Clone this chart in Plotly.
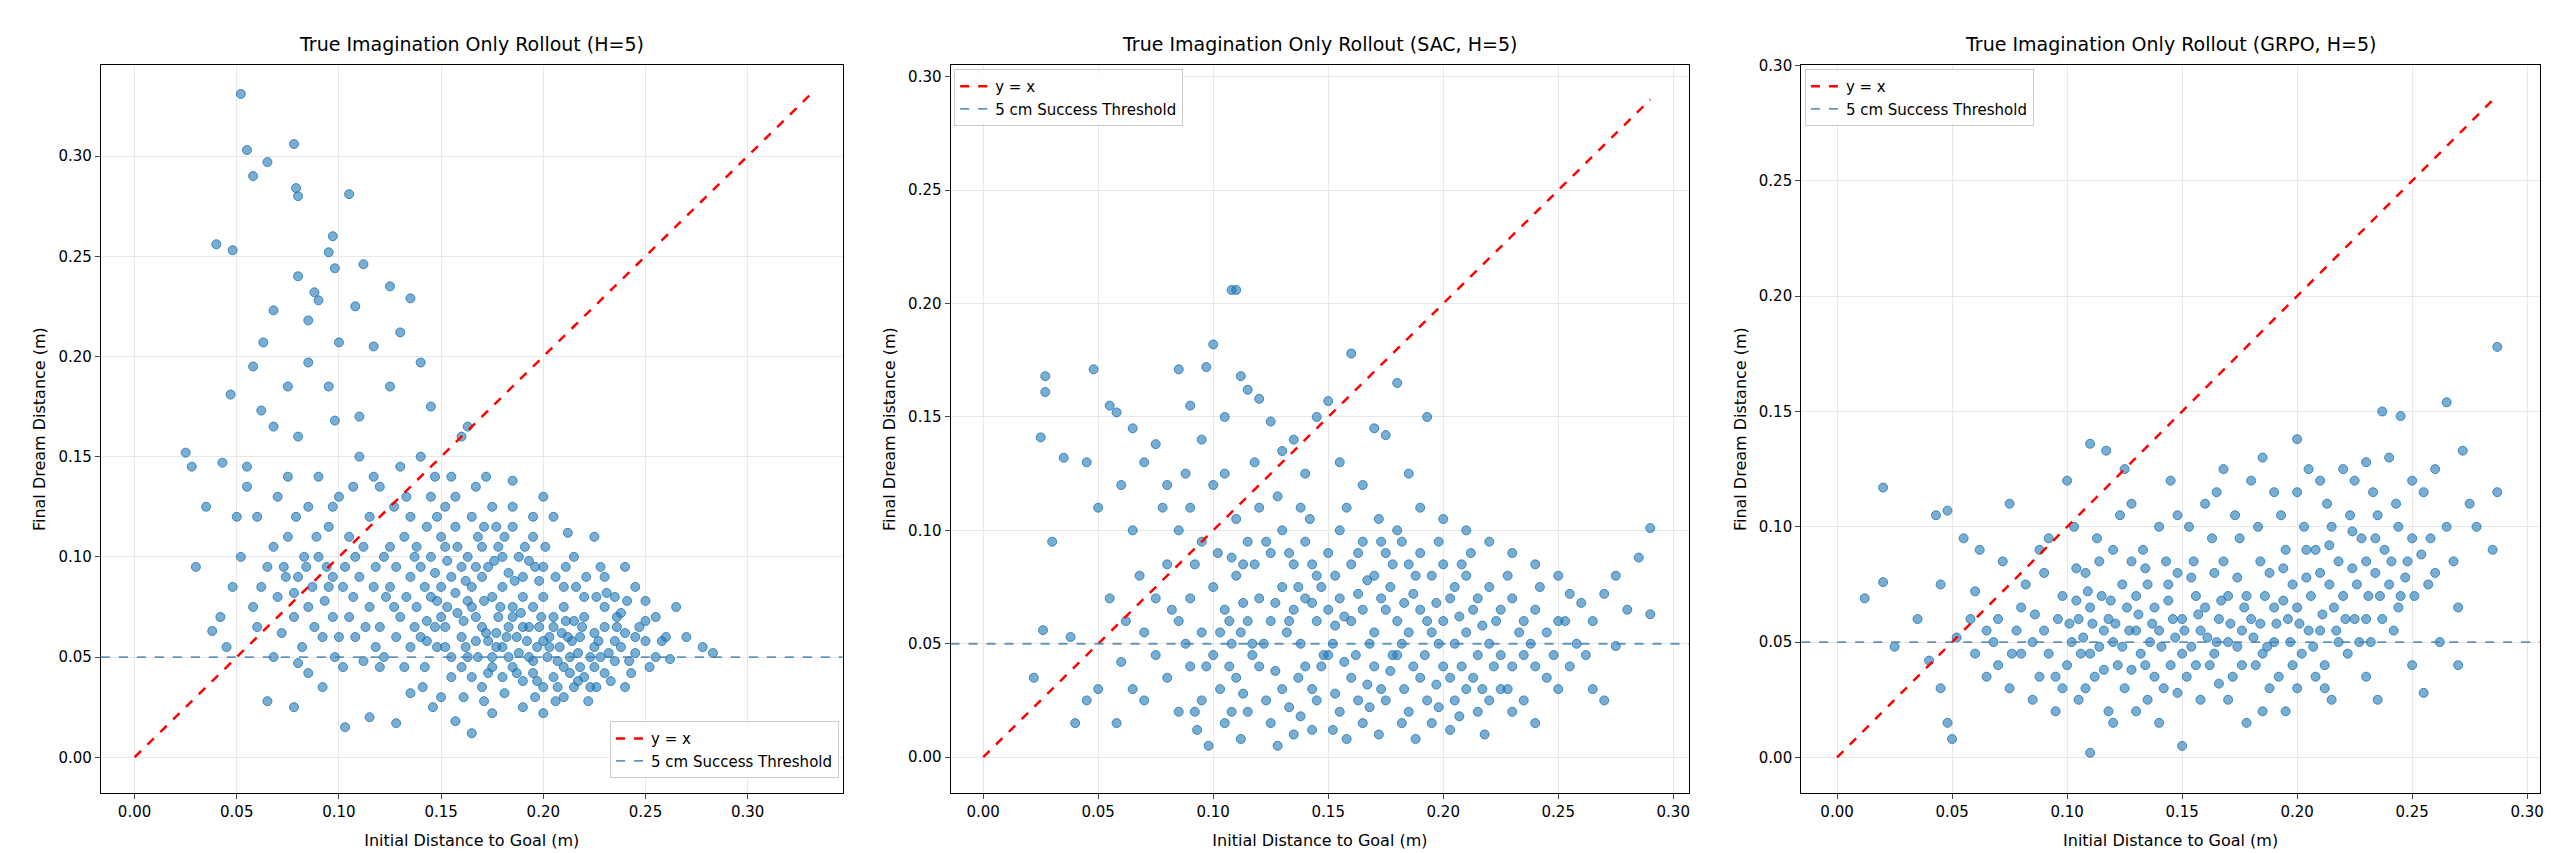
import plotly.graph_objects as go
from plotly.subplots import make_subplots

# Panel 1: True Imagination Only Rollout (H=5) -- (initial distance, final dream distance)
pts1 = [
(0.052,0.331),(0.055,0.303),(0.078,0.306),(0.065,0.297),(0.058,0.290),(0.079,0.284),(0.080,0.280),(0.105,0.281),
(0.097,0.260),(0.095,0.252),(0.040,0.256),(0.048,0.253),(0.112,0.246),(0.098,0.244),(0.080,0.240),(0.088,0.232),
(0.125,0.235),(0.135,0.229),(0.068,0.223),(0.090,0.228),(0.108,0.225),(0.085,0.218),(0.130,0.212),(0.063,0.207),
(0.100,0.207),(0.117,0.205),(0.140,0.197),(0.058,0.195),(0.085,0.197),(0.047,0.181),(0.075,0.185),(0.095,0.185),
(0.125,0.185),(0.062,0.173),(0.110,0.170),(0.145,0.175),(0.098,0.168),(0.068,0.165),(0.080,0.160),(0.025,0.152),
(0.043,0.147),(0.055,0.145),(0.028,0.145),(0.035,0.125),(0.050,0.120),(0.030,0.095),(0.038,0.063),(0.045,0.055),
(0.060,0.065),(0.065,0.028),(0.078,0.025),(0.080,0.047),(0.085,0.042),(0.092,0.035),(0.103,0.015),(0.115,0.020),
(0.120,0.045),(0.128,0.017),(0.135,0.032),(0.150,0.030),(0.157,0.018),(0.165,0.012),(0.175,0.022),(0.190,0.025),
(0.200,0.022),(0.210,0.030),(0.222,0.028),(0.240,0.035),(0.255,0.050),(0.262,0.049),(0.270,0.060),(0.278,0.055),
(0.283,0.052),(0.265,0.075),(0.250,0.068),(0.245,0.060),(0.238,0.072),(0.230,0.065),(0.225,0.055),(0.218,0.045),
(0.212,0.060),(0.205,0.070),(0.200,0.058),(0.195,0.048),(0.190,0.065),(0.185,0.075),(0.180,0.055),(0.175,0.045),
(0.170,0.065),(0.165,0.075),(0.160,0.060),(0.155,0.050),(0.150,0.070),(0.145,0.080),(0.140,0.060),(0.135,0.055),
(0.130,0.070),(0.125,0.085),(0.120,0.065),(0.115,0.075),(0.110,0.090),(0.105,0.070),(0.100,0.060),(0.095,0.085),
(0.090,0.100),(0.085,0.075),(0.080,0.090),(0.075,0.110),(0.070,0.080),(0.065,0.095),(0.060,0.120),(0.055,0.135),
(0.070,0.130),(0.075,0.140),(0.085,0.125),(0.090,0.140),(0.095,0.115),(0.100,0.130),(0.105,0.110),(0.110,0.150),
(0.115,0.120),(0.120,0.135),(0.125,0.105),(0.130,0.145),(0.135,0.120),(0.140,0.150),(0.145,0.130),(0.150,0.110),
(0.155,0.140),(0.160,0.160),(0.163,0.165),(0.165,0.120),(0.170,0.105),(0.175,0.125),(0.180,0.100),(0.185,0.115),
(0.190,0.090),(0.195,0.110),(0.200,0.095),(0.205,0.120),(0.210,0.085),(0.215,0.100),(0.220,0.080),(0.225,0.110),
(0.230,0.090),(0.235,0.080),(0.240,0.095),(0.245,0.085),(0.250,0.078),(0.255,0.070),(0.172,0.140),(0.185,0.138),
(0.200,0.130),(0.212,0.112),(0.135,0.090),(0.140,0.095),(0.145,0.100),(0.150,0.085),(0.155,0.090),(0.160,0.095),
(0.165,0.085),(0.170,0.090),(0.175,0.080),(0.180,0.085),(0.185,0.070),(0.190,0.080),(0.195,0.075),(0.200,0.080),
(0.205,0.065),(0.210,0.075),(0.215,0.068),(0.220,0.070),(0.225,0.062),(0.230,0.075),(0.235,0.058),(0.240,0.062),
(0.245,0.052),(0.250,0.058),(0.152,0.065),(0.158,0.072),(0.162,0.055),(0.168,0.050),(0.172,0.062),(0.178,0.070),
(0.182,0.060),(0.188,0.052),(0.192,0.058),(0.198,0.065),(0.202,0.050),(0.208,0.055),(0.213,0.050),(0.218,0.060),
(0.142,0.045),(0.148,0.055),(0.155,0.040),(0.160,0.045),(0.165,0.040),(0.170,0.035),(0.175,0.050),(0.180,0.040),
(0.185,0.045),(0.190,0.038),(0.195,0.042),(0.200,0.035),(0.205,0.040),(0.210,0.045),(0.215,0.035),(0.220,0.040),
(0.225,0.045),(0.230,0.042),(0.235,0.048),(0.118,0.055),(0.122,0.050),(0.128,0.060),(0.132,0.045),(0.108,0.060),
(0.112,0.048),(0.098,0.050),(0.102,0.045),(0.092,0.060),(0.088,0.065),(0.082,0.055),(0.078,0.070),(0.072,0.062),
(0.068,0.050),(0.138,0.075),(0.143,0.068),(0.148,0.078),(0.153,0.098),(0.158,0.105),(0.163,0.100),(0.168,0.110),
(0.173,0.095),(0.178,0.105),(0.183,0.092),(0.188,0.100),(0.193,0.098),(0.198,0.088),(0.118,0.095),(0.122,0.100),
(0.128,0.095),(0.132,0.110),(0.138,0.105),(0.143,0.115),(0.148,0.120),(0.103,0.095),(0.108,0.100),(0.112,0.105),
(0.093,0.078),(0.097,0.090),(0.087,0.085),(0.083,0.100),(0.078,0.082),(0.073,0.095),(0.068,0.105),(0.062,0.085),
(0.058,0.075),(0.052,0.100),(0.048,0.085),(0.042,0.070),(0.185,0.125),(0.195,0.120),(0.228,0.095),(0.260,0.060),
(0.153,0.075),(0.157,0.082),(0.161,0.068),(0.163,0.078),(0.167,0.070),(0.171,0.078),(0.173,0.058),(0.177,0.062),
(0.179,0.075),(0.183,0.065),(0.187,0.060),(0.189,0.072),(0.193,0.065),(0.197,0.055),(0.199,0.070),(0.203,0.060),
(0.207,0.048),(0.209,0.062),(0.211,0.068),(0.214,0.058),(0.217,0.052),(0.219,0.065),(0.223,0.050),(0.227,0.058),
(0.232,0.052),(0.236,0.065),(0.242,0.048),(0.247,0.065),(0.252,0.045),(0.258,0.058),(0.163,0.050),(0.167,0.058),
(0.173,0.042),(0.177,0.055),(0.183,0.050),(0.187,0.042),(0.193,0.050),(0.197,0.038),(0.203,0.055),(0.207,0.035),
(0.213,0.042),(0.217,0.038),(0.223,0.035),(0.228,0.050),(0.233,0.038),(0.238,0.055),(0.243,0.042),(0.152,0.055),
(0.147,0.065),(0.143,0.058),(0.137,0.065),(0.133,0.080),(0.127,0.075),(0.123,0.080),(0.117,0.085),(0.113,0.065),
(0.107,0.080),(0.102,0.085),(0.097,0.070),(0.094,0.095),(0.089,0.110),(0.084,0.095),(0.079,0.120),(0.074,0.090),
(0.137,0.100),(0.142,0.085),(0.147,0.092),(0.152,0.105),(0.157,0.115),(0.162,0.088),(0.167,0.095),(0.171,0.115),
(0.176,0.098),(0.181,0.110),(0.186,0.088),(0.191,0.105),(0.196,0.095),(0.201,0.105),(0.206,0.090),(0.211,0.095),
(0.216,0.085),(0.221,0.090),(0.226,0.080),(0.231,0.082),(0.236,0.070),(0.241,0.078),(0.127,0.125),(0.133,0.130),
(0.117,0.140),(0.107,0.135),(0.097,0.125),(0.147,0.140),(0.152,0.125),(0.157,0.130),(0.167,0.135),(0.177,0.115),
(0.141,0.035),(0.146,0.025),(0.161,0.030),(0.171,0.028),(0.181,0.032),(0.196,0.030),(0.206,0.028),(0.226,0.035),
]

# Panel 2: SAC
pts2 = [
(0.108,0.206),(0.110,0.206),(0.027,0.168),(0.027,0.161),(0.048,0.171),(0.025,0.141),(0.035,0.132),(0.030,0.095),
(0.026,0.056),(0.022,0.035),(0.038,0.053),(0.100,0.182),(0.097,0.172),(0.085,0.171),(0.112,0.168),(0.160,0.178),
(0.180,0.165),(0.193,0.150),(0.170,0.145),(0.175,0.142),(0.290,0.101),(0.285,0.088),(0.280,0.065),(0.275,0.049),
(0.290,0.063),(0.055,0.155),(0.058,0.152),(0.065,0.145),(0.070,0.130),(0.075,0.138),(0.080,0.120),(0.090,0.155),
(0.095,0.140),(0.105,0.150),(0.115,0.162),(0.120,0.158),(0.125,0.148),(0.130,0.135),(0.135,0.140),(0.140,0.125),
(0.145,0.150),(0.150,0.157),(0.155,0.130),(0.165,0.120),(0.185,0.125),(0.190,0.110),(0.200,0.105),(0.210,0.100),
(0.220,0.095),(0.230,0.090),(0.240,0.085),(0.250,0.080),(0.255,0.072),(0.260,0.068),(0.265,0.060),(0.270,0.072),
(0.045,0.130),(0.050,0.110),(0.060,0.120),(0.065,0.100),(0.055,0.070),(0.060,0.042),(0.050,0.030),(0.045,0.025),
(0.040,0.015),(0.058,0.015),(0.065,0.030),(0.070,0.055),(0.075,0.070),(0.080,0.085),(0.085,0.100),(0.090,0.110),
(0.095,0.095),(0.100,0.120),(0.105,0.125),(0.110,0.105),(0.115,0.095),(0.120,0.110),(0.125,0.090),(0.130,0.100),
(0.135,0.085),(0.140,0.095),(0.145,0.080),(0.150,0.090),(0.155,0.100),(0.160,0.085),(0.165,0.095),(0.170,0.080),
(0.175,0.090),(0.180,0.100),(0.185,0.085),(0.190,0.090),(0.195,0.080),(0.200,0.085),(0.205,0.075),(0.210,0.080),
(0.215,0.070),(0.220,0.075),(0.225,0.065),(0.230,0.070),(0.235,0.060),(0.240,0.065),(0.245,0.055),(0.250,0.060),
(0.085,0.060),(0.090,0.070),(0.095,0.055),(0.100,0.075),(0.105,0.065),(0.110,0.080),(0.115,0.060),(0.120,0.070),
(0.125,0.060),(0.130,0.075),(0.135,0.065),(0.140,0.070),(0.145,0.060),(0.150,0.065),(0.155,0.070),(0.160,0.060),
(0.165,0.065),(0.170,0.055),(0.175,0.065),(0.180,0.060),(0.185,0.055),(0.190,0.065),(0.195,0.055),(0.200,0.060),
(0.205,0.050),(0.210,0.055),(0.215,0.045),(0.220,0.050),(0.225,0.045),(0.230,0.040),(0.235,0.045),(0.240,0.040),
(0.245,0.035),(0.250,0.030),(0.255,0.040),(0.265,0.030),(0.270,0.025),(0.080,0.035),(0.085,0.020),(0.090,0.040),
(0.095,0.025),(0.100,0.045),(0.105,0.015),(0.110,0.035),(0.115,0.020),(0.120,0.040),(0.125,0.015),(0.130,0.030),
(0.135,0.010),(0.140,0.040),(0.145,0.025),(0.150,0.045),(0.155,0.020),(0.160,0.035),(0.165,0.015),(0.170,0.040),
(0.175,0.025),(0.180,0.045),(0.185,0.020),(0.190,0.035),(0.195,0.015),(0.200,0.040),(0.205,0.025),(0.210,0.030),
(0.215,0.020),(0.220,0.025),(0.225,0.030),(0.230,0.020),(0.235,0.025),(0.240,0.015),(0.098,0.005),(0.112,0.008),
(0.128,0.005),(0.143,0.012),(0.158,0.008),(0.172,0.010),(0.188,0.008),(0.203,0.012),(0.218,0.010),(0.092,0.085),
(0.102,0.090),(0.118,0.085),(0.132,0.055),(0.138,0.050),(0.148,0.045),(0.152,0.050),(0.162,0.045),(0.168,0.050),
(0.178,0.045),(0.182,0.050),(0.192,0.045),(0.198,0.050),(0.208,0.040),(0.122,0.050),(0.108,0.050),(0.112,0.055),
(0.075,0.045),(0.070,0.025),(0.062,0.060),(0.068,0.080),(0.078,0.110),(0.088,0.125),(0.172,0.105),(0.182,0.095),
(0.158,0.110),(0.142,0.105),(0.128,0.115),(0.212,0.090),(0.228,0.080),(0.242,0.075),(0.258,0.050),(0.275,0.080),
(0.103,0.030),(0.107,0.040),(0.113,0.028),(0.117,0.045),(0.123,0.025),(0.127,0.038),(0.133,0.022),(0.137,0.035),
(0.143,0.030),(0.147,0.040),(0.153,0.028),(0.157,0.042),(0.163,0.025),(0.167,0.032),(0.173,0.030),(0.177,0.038),
(0.183,0.030),(0.187,0.040),(0.193,0.025),(0.197,0.032),(0.203,0.035),(0.207,0.018),(0.213,0.035),(0.217,0.030),
(0.103,0.055),(0.107,0.060),(0.113,0.068),(0.117,0.050),(0.127,0.068),(0.133,0.060),(0.137,0.075),(0.143,0.068),
(0.147,0.075),(0.153,0.058),(0.157,0.062),(0.163,0.072),(0.167,0.078),(0.173,0.070),(0.177,0.075),(0.183,0.068),
(0.187,0.072),(0.193,0.060),(0.197,0.068),(0.203,0.070),(0.207,0.062),(0.213,0.065),(0.217,0.058),(0.223,0.060),
(0.108,0.088),(0.113,0.085),(0.123,0.095),(0.133,0.090),(0.143,0.085),(0.153,0.080),(0.163,0.090),(0.173,0.095),
(0.178,0.085),(0.188,0.080),(0.198,0.095),(0.208,0.085),(0.097,0.040),(0.092,0.020),(0.088,0.050),(0.082,0.065),
(0.093,0.012),(0.108,0.020),(0.138,0.018),(0.152,0.012),(0.168,0.022),(0.182,0.015),(0.198,0.022),(0.228,0.030),
(0.238,0.050),(0.248,0.045),(0.253,0.060),(0.262,0.045),(0.233,0.055),(0.222,0.040),(0.118,0.130),(0.138,0.110),
]

# Panel 3: GRPO
pts3 = [
(0.287,0.178),(0.287,0.115),(0.265,0.154),(0.272,0.133),(0.237,0.150),(0.245,0.148),(0.012,0.069),(0.020,0.117),
(0.020,0.076),(0.048,0.107),(0.043,0.105),(0.045,0.075),(0.110,0.136),(0.117,0.133),(0.200,0.138),(0.025,0.048),
(0.035,0.060),(0.040,0.042),(0.045,0.030),(0.048,0.015),(0.050,0.008),(0.055,0.095),(0.060,0.072),(0.065,0.055),
(0.070,0.040),(0.075,0.110),(0.080,0.065),(0.085,0.050),(0.090,0.080),(0.095,0.035),(0.100,0.120),(0.105,0.060),
(0.110,0.045),(0.115,0.070),(0.120,0.090),(0.125,0.030),(0.130,0.055),(0.135,0.075),(0.140,0.100),(0.145,0.040),
(0.150,0.060),(0.155,0.085),(0.160,0.110),(0.165,0.050),(0.170,0.070),(0.175,0.095),(0.180,0.120),(0.185,0.045),
(0.190,0.065),(0.195,0.090),(0.200,0.115),(0.205,0.055),(0.210,0.080),(0.215,0.100),(0.220,0.125),(0.225,0.060),
(0.230,0.085),(0.235,0.105),(0.240,0.130),(0.245,0.070),(0.250,0.095),(0.255,0.115),(0.260,0.080),(0.265,0.100),
(0.270,0.065),(0.275,0.110),(0.250,0.040),(0.255,0.028),(0.230,0.035),(0.215,0.025),(0.200,0.030),(0.185,0.020),
(0.170,0.025),(0.150,0.005),(0.140,0.015),(0.130,0.020),(0.120,0.015),(0.110,0.002),(0.105,0.025),(0.095,0.020),
(0.085,0.025),(0.075,0.030),(0.065,0.035),(0.060,0.045),(0.070,0.060),(0.080,0.045),(0.090,0.055),(0.100,0.040),
(0.110,0.065),(0.120,0.050),(0.130,0.070),(0.140,0.055),(0.150,0.045),(0.160,0.065),(0.170,0.050),(0.180,0.060),
(0.190,0.050),(0.200,0.065),(0.210,0.055),(0.220,0.070),(0.230,0.060),(0.240,0.075),(0.098,0.070),(0.108,0.080),
(0.118,0.060),(0.128,0.085),(0.138,0.065),(0.148,0.080),(0.158,0.055),(0.168,0.085),(0.178,0.070),(0.188,0.080),
(0.198,0.075),(0.208,0.090),(0.218,0.085),(0.228,0.095),(0.238,0.090),(0.248,0.085),(0.258,0.095),(0.102,0.050),
(0.112,0.035),(0.122,0.040),(0.132,0.045),(0.142,0.030),(0.152,0.035),(0.162,0.040),(0.172,0.035),(0.182,0.040),
(0.192,0.035),(0.202,0.045),(0.212,0.040),(0.222,0.045),(0.232,0.050),(0.242,0.055),(0.088,0.035),(0.078,0.055),
(0.068,0.050),(0.058,0.060),(0.052,0.052),(0.092,0.095),(0.103,0.100),(0.113,0.095),(0.123,0.105),(0.133,0.090),
(0.143,0.085),(0.153,0.100),(0.163,0.095),(0.173,0.105),(0.183,0.100),(0.193,0.105),(0.203,0.100),(0.213,0.110),
(0.223,0.105),(0.233,0.115),(0.243,0.110),(0.125,0.125),(0.145,0.120),(0.165,0.115),(0.185,0.130),(0.205,0.125),
(0.225,0.120),(0.260,0.125),(0.268,0.085),(0.278,0.100),(0.285,0.090),(0.262,0.050),(0.270,0.040),(0.146,0.060),
(0.136,0.050),(0.126,0.065),(0.116,0.055),(0.106,0.045),(0.096,0.060),(0.156,0.070),(0.166,0.060),(0.176,0.055),
(0.186,0.070),(0.196,0.060),(0.206,0.070),(0.216,0.065),(0.226,0.075),(0.236,0.070),(0.118,0.020),(0.135,0.025),
(0.158,0.025),(0.178,0.015),(0.195,0.020),(0.212,0.030),(0.235,0.025),(0.082,0.075),(0.072,0.085),(0.062,0.090),
(0.088,0.090),(0.128,0.110),(0.148,0.105),(0.168,0.125),(0.190,0.115),(0.210,0.120),(0.230,0.128),(0.250,0.120),
(0.101,0.058),(0.104,0.068),(0.107,0.052),(0.111,0.058),(0.114,0.048),(0.119,0.068),(0.121,0.058),(0.124,0.048),
(0.127,0.055),(0.131,0.062),(0.134,0.040),(0.137,0.058),(0.141,0.048),(0.144,0.068),(0.147,0.052),(0.151,0.055),
(0.154,0.048),(0.157,0.062),(0.161,0.052),(0.164,0.045),(0.167,0.068),(0.171,0.058),(0.174,0.048),(0.177,0.065),
(0.181,0.052),(0.184,0.058),(0.187,0.048),(0.191,0.058),(0.194,0.068),(0.197,0.050),(0.201,0.058),(0.204,0.078),
(0.207,0.048),(0.211,0.062),(0.214,0.075),(0.217,0.055),(0.221,0.060),(0.224,0.082),(0.227,0.050),(0.231,0.070),
(0.234,0.080),(0.237,0.060),(0.241,0.085),(0.244,0.065),(0.247,0.078),(0.251,0.070),(0.254,0.088),(0.257,0.075),
(0.104,0.082),(0.109,0.072),(0.114,0.085),(0.124,0.075),(0.134,0.082),(0.144,0.075),(0.154,0.078),(0.164,0.080),
(0.174,0.078),(0.184,0.085),(0.194,0.082),(0.204,0.090),(0.214,0.092),(0.224,0.098),(0.234,0.095),(0.244,0.100),
(0.098,0.030),(0.108,0.030),(0.116,0.038),(0.128,0.038),(0.138,0.035),(0.148,0.028),(0.156,0.040),(0.166,0.032),
(0.176,0.040),(0.188,0.030),(0.198,0.040),(0.208,0.035),(0.218,0.050),(0.086,0.062),(0.076,0.045),(0.092,0.045),
]

panels = [
    ("True Imagination Only Rollout (H=5)", pts1, [-0.0165, 0.3465], [-0.0177, 0.3452]),
    ("True Imagination Only Rollout (SAC, H=5)", pts2, [-0.0142, 0.307], [-0.0157, 0.305]),
    ("True Imagination Only Rollout (GRPO, H=5)", pts3, [-0.0156, 0.3056], [-0.0153, 0.300]),
]
threshold = 0.05

W = 2560
doms = [(93/W, 836/W), (944/W, 1684/W), (1796/W, 2536/W)]
fig = make_subplots(rows=1, cols=3)
legend_pos = [dict(x=0.995, y=0.02, xanchor="right", yanchor="bottom"),
              dict(x=0.005, y=0.995, xanchor="left", yanchor="top"),
              dict(x=0.005, y=0.995, xanchor="left", yanchor="top")]
font = "DejaVu Sans"
for i, (title, pts, xr, yr) in enumerate(panels):
    xs = [p[0] for p in pts]; ys = [p[1] for p in pts]
    leg = "legend" if i == 0 else f"legend{i+1}"
    m = max(max(xs), max(ys))
    fig.add_trace(go.Scatter(x=xs, y=ys, mode="markers", showlegend=False,
        marker=dict(color="rgba(31,119,180,0.6)", size=9, line=dict(color="rgba(31,119,180,0.8)", width=1))), 1, i+1)
    fig.add_trace(go.Scatter(x=[0, m], y=[0, m], mode="lines", name="y = x", legend=leg,
        line=dict(color="red", width=2.5, dash="dash")), 1, i+1)
    fig.add_trace(go.Scatter(x=[xr[0], xr[1]], y=[threshold, threshold], mode="lines", name="5 cm Success Threshold",
        legend=leg, line=dict(color="rgba(70,130,180,0.85)", width=1.8, dash="dash")), 1, i+1)
    ax = "" if i == 0 else str(i+1)
    fig.layout["xaxis" + ax].update(domain=doms[i], range=xr, dtick=0.05, tickformat=".2f",
        title=dict(text="Initial Distance to Goal (m)", font=dict(size=16)),
        showgrid=True, gridcolor="#e8e8e8", showline=True, linecolor="black", mirror=True,
        ticks="outside", zeroline=False)
    fig.layout["yaxis" + ax].update(domain=[1-784/853, 1-49/853], range=yr, dtick=0.05, tickformat=".2f",
        title=dict(text="Final Dream Distance (m)", font=dict(size=16), standoff=8),
        showgrid=True, gridcolor="#e8e8e8", showline=True, linecolor="black", mirror=True,
        ticks="outside", zeroline=False)
    d = doms[i]
    lp = legend_pos[i]
    fig.layout[leg] = dict(x=d[0] + lp["x"]*(d[1]-d[0]), y=(1-784/853) + lp["y"]*(735/853),
        xanchor=lp["xanchor"], yanchor=lp["yanchor"], bgcolor="rgba(255,255,255,0.85)",
        bordercolor="#cccccc", borderwidth=1, font=dict(size=15))
    fig.add_annotation(text=title, x=(d[0]+d[1])/2, y=1-40/853, xref="paper", yref="paper",
        showarrow=False, xanchor="center", yanchor="bottom", font=dict(size=19, color="black"))

fig.update_layout(width=2560, height=853, plot_bgcolor="white", paper_bgcolor="white",
    font=dict(family=font, size=15, color="black"), margin=dict(l=0, r=0, t=0, b=0))
fig.write_html("out.html")
